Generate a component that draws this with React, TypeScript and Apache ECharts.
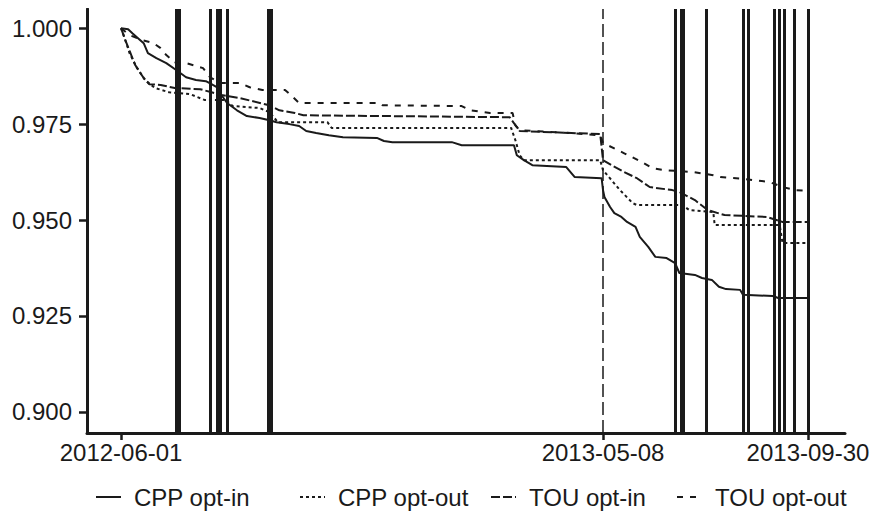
import React, { useEffect, useRef } from 'react';
import * as echarts from 'echarts';

const X_TICKS = ['2012-06-01', '2013-05-08', '2013-09-30'];
const Y_TICKS = [0.9, 0.925, 0.95, 0.975, 1.0];
const SERIES_NAMES = ['CPP opt-in', 'CPP opt-out', 'TOU opt-in', 'TOU opt-out'];
const POLICY_DATE = '2013-05-08';
const EVENT_DATES = [
  '2012-07-10', '2012-07-12', '2012-08-03', '2012-08-08', '2012-08-10', '2012-08-15',
  '2012-09-13', '2012-09-15', '2013-06-28', '2013-07-02', '2013-07-04', '2013-07-20',
  '2013-08-15', '2013-08-19', '2013-09-06', '2013-09-10', '2013-09-13', '2013-09-20', '2013-09-30',
];

const cppInDates = [
  '2012-06-01', '2012-06-06', '2012-06-09', '2012-06-13', '2012-06-17', '2012-06-20', '2012-06-26',
  '2012-07-03', '2012-07-10', '2012-07-17', '2012-07-24', '2012-07-31', '2012-08-04', '2012-08-08',
  '2012-08-11', '2012-08-15', '2012-08-22', '2012-08-29', '2012-09-07', '2012-09-14', '2012-09-19',
  '2012-09-28', '2012-10-05', '2012-10-10', '2012-10-17', '2012-10-26', '2012-11-05', '2012-11-29',
  '2012-12-04', '2012-12-10', '2013-01-21', '2013-01-28', '2013-03-06', '2013-03-07', '2013-03-08',
  '2013-03-13', '2013-03-19', '2013-04-12', '2013-04-18', '2013-05-07', '2013-05-08', '2013-05-09',
  '2013-05-13', '2013-05-16', '2013-05-21', '2013-05-25', '2013-05-31', '2013-06-03', '2013-06-09',
  '2013-06-14', '2013-06-22', '2013-06-28', '2013-07-01', '2013-07-12', '2013-07-17', '2013-07-24',
  '2013-07-29', '2013-08-03', '2013-08-13', '2013-08-15', '2013-09-05', '2013-09-09', '2013-09-30',
];
const cppInValues = [
  1.0, 0.9997, 0.9987, 0.9974, 0.9961, 0.9935, 0.9922,
  0.9909, 0.9891, 0.9872, 0.9865, 0.9862, 0.9854, 0.9846,
  0.9826, 0.9805, 0.9786, 0.9771, 0.9766, 0.976, 0.9755,
  0.975, 0.9745, 0.9732, 0.9727, 0.9721, 0.9716, 0.9714,
  0.9706, 0.9703, 0.9703, 0.9695, 0.9695, 0.9682, 0.9669,
  0.9656, 0.9643, 0.9638, 0.9612, 0.9609, 0.9578, 0.956,
  0.9534, 0.9518, 0.9508, 0.9495, 0.9482, 0.9456, 0.943,
  0.9404, 0.9401, 0.9388, 0.9362, 0.9357, 0.9349, 0.9344,
  0.9326, 0.932, 0.9318, 0.9305, 0.9302, 0.9297, 0.9297,
];

const cppOutDates = [
  '2012-06-01', '2012-06-04', '2012-06-07', '2012-06-12', '2012-06-18', '2012-06-25', '2012-07-05',
  '2012-07-20', '2012-07-30', '2012-08-14', '2012-08-19', '2012-09-07', '2012-09-14', '2012-09-20',
  '2012-10-25', '2012-10-28', '2013-03-04', '2013-03-07', '2013-03-10', '2013-03-13', '2013-05-06',
  '2013-05-08', '2013-05-11', '2013-05-20', '2013-05-29', '2013-06-01', '2013-07-03', '2013-07-08',
  '2013-07-25', '2013-07-26', '2013-09-10', '2013-09-12', '2013-09-30',
];
const cppOutValues = [
  1.0, 0.9969, 0.9935, 0.9898, 0.9865, 0.9844, 0.9833,
  0.9828, 0.9813, 0.9813, 0.9797, 0.9792, 0.9781, 0.9755,
  0.9755, 0.974, 0.974, 0.9708, 0.9669, 0.9656, 0.9656,
  0.963, 0.9617, 0.9578, 0.9544, 0.9539, 0.9539, 0.9526,
  0.9521, 0.9487, 0.9487, 0.944, 0.944,
];

const touInDates = [
  '2012-06-01', '2012-06-04', '2012-06-11', '2012-06-17', '2012-06-21', '2012-06-29', '2012-07-09',
  '2012-07-27', '2012-08-04', '2012-08-11', '2012-08-24', '2012-09-14', '2012-09-21', '2012-10-02',
  '2012-10-08', '2013-03-03', '2013-03-07', '2013-03-10', '2013-05-06', '2013-05-08', '2013-05-14',
  '2013-05-23', '2013-06-01', '2013-06-10', '2013-06-26', '2013-07-01', '2013-07-12', '2013-07-21',
  '2013-08-02', '2013-09-01', '2013-09-12', '2013-09-30',
];
const touInValues = [
  1.0, 0.9969, 0.9904, 0.987, 0.9854, 0.9852, 0.9844,
  0.9841, 0.9833, 0.9826, 0.9818, 0.9799, 0.9786, 0.9779,
  0.9773, 0.9768, 0.9747, 0.9732, 0.9724, 0.9656, 0.9643,
  0.9625, 0.9609, 0.9586, 0.9578, 0.9573, 0.9552, 0.9526,
  0.9513, 0.9508, 0.9495, 0.9495,
];

const touOutDates = [
  '2012-06-01', '2012-06-07', '2012-06-16', '2012-06-24', '2012-06-29', '2012-07-03', '2012-07-09',
  '2012-07-17', '2012-07-29', '2012-08-03', '2012-08-10', '2012-08-24', '2012-08-31', '2012-09-09',
  '2012-09-25', '2012-09-29', '2012-10-05', '2012-12-01', '2012-12-03', '2013-01-28', '2013-02-03',
  '2013-02-17', '2013-03-05', '2013-03-07', '2013-03-10', '2013-04-14', '2013-05-06', '2013-05-08',
  '2013-05-23', '2013-06-03', '2013-06-12', '2013-06-21', '2013-07-11', '2013-07-25', '2013-07-30',
  '2013-08-16', '2013-09-03', '2013-09-12', '2013-09-21', '2013-09-30',
];
const touOutValues = [
  1.0, 0.9982, 0.9969, 0.9961, 0.9948, 0.993, 0.9911,
  0.9909, 0.9896, 0.9872, 0.9857, 0.9857, 0.9846, 0.9839,
  0.9839, 0.9826, 0.9805, 0.9805, 0.9799, 0.9797, 0.9786,
  0.9779, 0.9779, 0.9747, 0.9734, 0.9727, 0.9721, 0.9701,
  0.9674, 0.9654, 0.9635, 0.963, 0.9625, 0.9617, 0.9612,
  0.9607, 0.9599, 0.9586, 0.9578, 0.9576,
];

const INK = '#1a1a1a';
const FONT = '"Liberation Sans", Arial, Helvetica, sans-serif';
const DAY = 86400000;

function ts(s: string): number {
  const [y, m, d] = s.split('-').map(Number);
  return Date.UTC(y, m - 1, d);
}
function pad(n: number): string {
  return n < 10 ? '0' + n : String(n);
}
function fmtDate(v: number): string {
  const d = new Date(v);
  return `${d.getUTCFullYear()}-${pad(d.getUTCMonth() + 1)}-${pad(d.getUTCDate())}`;
}
function zip(dates: string[], values: number[]) {
  return dates.map((d, i) => [ts(d), values[i]]);
}

export default function App() {
  const ref = useRef<HTMLDivElement>(null);
  useEffect(() => {
    if (!ref.current) return;
    const chart = echarts.init(ref.current, undefined, { renderer: 'svg' });
    const xMin = ts(X_TICKS[0]);
    const xMax = ts(X_TICKS[X_TICKS.length - 1]);
    const dashes: any[] = ['solid', [3, 3], [9, 3], [6, 7]];
    const datas = [
      zip(cppInDates, cppInValues),
      zip(cppOutDates, cppOutValues),
      zip(touInDates, touInValues),
      zip(touOutDates, touOutValues),
    ];
    const series: any[] = SERIES_NAMES.map((name, i) => ({
      name,
      type: 'line',
      data: datas[i],
      showSymbol: false,
      symbol: 'none',
      lineStyle: { color: INK, width: 2, type: dashes[i] },
      itemStyle: { color: INK },
      z: 3,
    }));
    series[0].markLine = {
      silent: true,
      symbol: ['none', 'none'],
      label: { show: false },
      animation: false,
      lineStyle: { color: INK, width: 3, type: 'solid' },
      data: [
        ...EVENT_DATES.map((d) => ({ xAxis: ts(d) })),
        { xAxis: ts(POLICY_DATE), lineStyle: { color: INK, width: 1.5, type: [13, 5] } },
      ],
    };
    const legendLefts = [87, 291, 482, 668];
    const legends = SERIES_NAMES.map((name, i) => ({
      data: [name],
      top: 477,
      left: legendLefts[i],
      itemWidth: 25,
      itemHeight: 24,
      itemGap: 0,
      padding: 0,
      itemStyle: { opacity: 0, borderWidth: 0 },
      textStyle: { fontSize: 24, color: INK, fontFamily: FONT, padding: [0, 0, 0, 8] },
    }));
    chart.setOption({
      animation: false,
      textStyle: { fontFamily: FONT },
      grid: { left: 79, right: 33, top: 1, bottom: 98 },
      legend: legends,
      xAxis: {
        type: 'value',
        min: xMin - 24.1 * DAY,
        max: xMax + 26.2 * DAY,
        splitLine: { show: false },
        axisLine: { show: true, lineStyle: { color: INK, width: 3 } },
        axisTick: { show: true, length: 7, customValues: X_TICKS.map(ts), lineStyle: { color: INK, width: 2.5 } },
        axisLabel: {
          customValues: X_TICKS.map(ts),
          formatter: (v: number) => fmtDate(v),
          fontSize: 24,
          color: INK,
          margin: 7,
          fontFamily: FONT,
        },
      },
      yAxis: {
        type: 'value',
        min: 0.8945,
        max: 1.005,
        splitLine: { show: false },
        axisLine: { show: true, lineStyle: { color: INK, width: 3 } },
        axisTick: { show: true, length: 8, customValues: Y_TICKS, lineStyle: { color: INK, width: 2.5 } },
        axisLabel: {
          customValues: Y_TICKS,
          formatter: (v: number) => v.toFixed(3),
          fontSize: 24,
          color: INK,
          margin: 15,
          fontFamily: FONT,
        },
      },
      series,
    });
    return () => chart.dispose();
  }, []);
  return <div ref={ref} style={{ width: 870, height: 523 }} />;
}
